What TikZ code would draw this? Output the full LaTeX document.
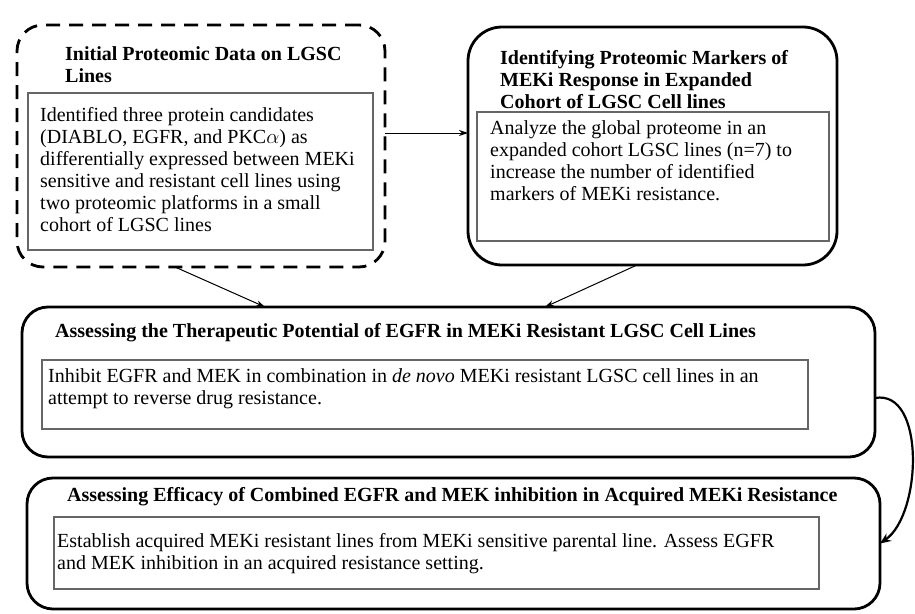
\documentclass[tikz,border=0pt]{standalone}
\usepackage{fontspec}
\setmainfont{Liberation Serif}
\usepackage{tikz}
\usetikzlibrary{arrows.meta}

\begin{document}
\begin{tikzpicture}[x=1pt, y=-1pt]
	\useasboundingbox (0,0) rectangle (915,613);
	\begin{scope}[every node/.style = {draw, line width=2.8pt, outer sep=0pt, inner sep=0pt, rounded corners=26pt}]
		\node[dash pattern=on 14pt off 9pt, minimum width=368pt, minimum height=242pt] (init) at (201,146) {};
		\node[rounded corners=34pt, minimum width=369pt, minimum height=238pt] (mark) at (652.5,146) {};
		\node[minimum width=853pt, minimum height=150pt] (egfr) at (448.5,382) {};
		\node[minimum width=853pt, minimum height=131pt] (acq) at (453.5,543.5) {};
	\end{scope}
	\begin{scope}[every node/.style = {draw=black!60, line width=1.2pt, outer sep=0pt, inner sep=0pt}]
		\node[minimum width=345pt, minimum height=157pt] (initbody) at (200.5,171.5) {};
		\node[minimum width=352pt, minimum height=129pt] (markbody) at (653,176.5) {};
		\node[minimum width=766pt, minimum height=69pt] (egfrbody) at (425,394.5) {};
		\node[minimum width=765pt, minimum height=72pt] (acqbody) at (436.5,553) {};
	\end{scope}
	\begin{scope}[every node/.style = {anchor=west, align=left, inner sep=0pt, font=\fontsize{20}{22}\selectfont},
		heading/.style = {font=\fontsize{20}{22}\selectfont\bfseries}]
		\node[heading] (inittitle) at (65,65) {Initial Proteomic Data on LGSC\\Lines};
		\node (inittext) at (40,170) {Identified three protein candidates\\(DIABLO, EGFR, and PKC$\alpha$) as\\differentially expressed between MEKi\\sensitive and resistant cell lines using\\two proteomic platforms in a small\\cohort of LGSC lines};
		\node[heading] (marktitle) at (500,80) {Identifying Proteomic Markers of\\MEKi Response in Expanded\\Cohort of LGSC Cell lines};
		\node (marktext) at (490,161) {Analyze the global proteome in an\\expanded cohort LGSC lines (n=7) to\\increase the number of identified\\markers of MEKi resistance.};
		\node[heading] (egfrtitle) at (55,333) {Assessing the Therapeutic Potential of EGFR in MEKi Resistant LGSC Cell Lines};
		\node (egfrtext) at (48,389) {Inhibit EGFR and MEK in combination in \emph{de novo} MEKi resistant LGSC cell lines in an\\attempt to reverse drug resistance.};
		\node[heading] (acqtitle) at (67,497) {Assessing Efficacy of Combined EGFR and MEK inhibition in Acquired MEKi Resistance};
		\node (acqtext) at (57,554) {Establish acquired MEKi resistant lines from MEKi sensitive parental line. Assess EGFR\\and MEK inhibition in an acquired resistance setting.};
	\end{scope}
	\begin{scope}[>={Stealth[black, length=9pt, width=6pt]},
			every edge/.style={draw=black, line width=1pt}]
		\path [->] ([yshift=13pt]init.east) edge ([yshift=13pt]mark.west);
		\path [->] ([xshift=-26pt]init.south) edge ([xshift=-183.5pt]egfr.north);
		\path [->] ([xshift=-15.5pt]mark.south) edge ([xshift=96.5pt]egfr.north);
		\path [-{Stealth[black, length=11pt, width=9pt]}] ([yshift=-16pt]egfr.east) edge[line width=2.2pt, out=10, in=35, looseness=0.9] (acq.east);
	\end{scope}
\end{tikzpicture}
\end{document}
